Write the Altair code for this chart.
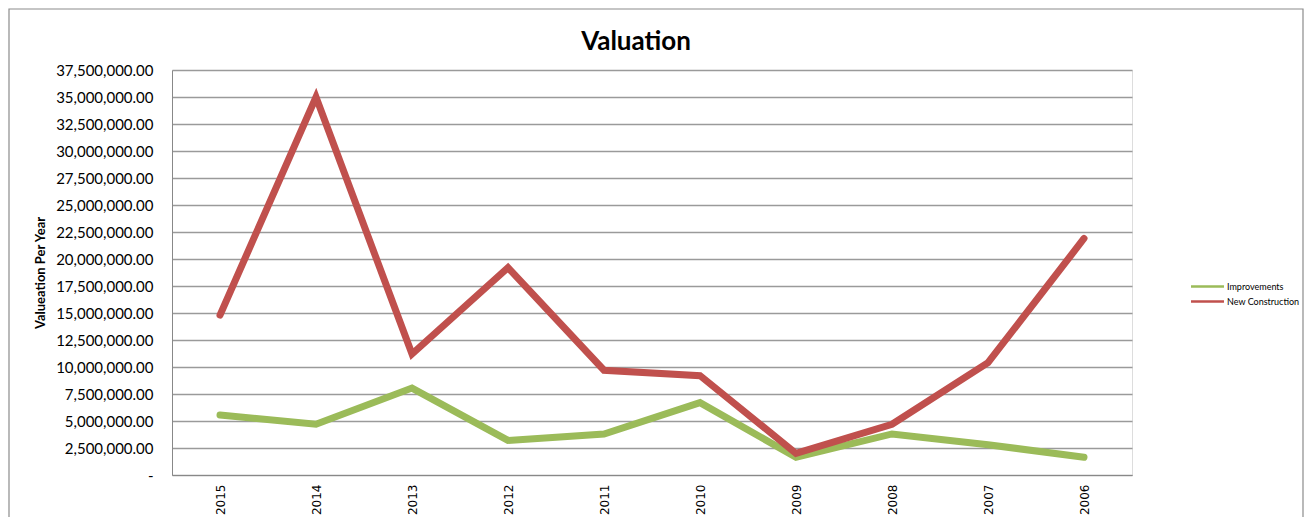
import altair as alt
import pandas as pd

years = ["2015", "2014", "2013", "2012", "2011", "2010", "2009", "2008", "2007", "2006"]
improvements = [5550000, 4700000, 8050000, 3200000, 3800000, 6700000, 1650000, 3800000, 2800000, 1650000]
new_construction = [14800000, 35000000, 11200000, 19200000, 9700000, 9200000, 2000000, 4700000, 10400000, 21900000]
series_names = ["Improvements", "New Construction"]
series_colors = ["#9BBB59", "#C0504D"]
y_ticks = [i * 2500000 for i in range(16)]
chart_title = "Valuation"

rows = []
for y, a, b in zip(years, improvements, new_construction):
    rows.append({"Year": y, "Series": series_names[0], "Value": a})
    rows.append({"Year": y, "Series": series_names[1], "Value": b})
df = pd.DataFrame(rows)

FONT = "Lato"
W, H = 960, 405

lines = alt.Chart(df).mark_line(strokeWidth=7, strokeCap="round", strokeJoin="miter").encode(
    x=alt.X("Year:N", sort=years,
            scale=alt.Scale(type="point", padding=0.5),
            axis=alt.Axis(title=None, labelAngle=270, labelFontSize=12, labelFont="DejaVu Sans",
                          labelColor="#000000", labelPadding=9, ticks=False,
                          domainColor="#888888", grid=False, labelBaseline="middle", labelAlign="right")),
    y=alt.Y("Value:Q", scale=alt.Scale(domain=[0, 37500000], nice=False),
            axis=alt.Axis(title="Valueation Per Year", titleFont=FONT, titleFontSize=13,
                          titleFontWeight="bold", titleColor="#000000",
                          titleX=-132, titleY=H / 2, titleBaseline="middle", titleAlign="center",
                          values=y_ticks,
                          labelExpr="datum.value == 0 ? '-' : format(datum.value, ',.2f')",
                          labelFont=FONT, labelFontSize=15, labelColor="#000000", labelPadding=19,
                          ticks=False, domainColor="#888888",
                          grid=True, gridColor="#9a9a9a", gridWidth=1.3)),
    color=alt.Color("Series:N", sort=series_names,
                    scale=alt.Scale(domain=series_names, range=series_colors),
                    legend=alt.Legend(title=None, orient="none", legendX=1026, legendY=207,
                                      symbolType="M-2,0L2,0", symbolSize=272, symbolStrokeWidth=2.5,
                                      labelFont=FONT, labelFontSize=9, labelColor="#000000",
                                      rowPadding=0, labelOffset=10)),
    order=alt.Order("Year:N", sort="descending"),
)

border = alt.Chart(pd.DataFrame({"k": [0]})).mark_rect(
    fill=None, stroke="#8c8c8c", strokeWidth=1.2, clip=False
).encode(
    x=alt.value(-163), x2=alt.value(1131), y=alt.value(-61), y2=alt.value(470)
)

title = alt.Chart(pd.DataFrame({"t": [chart_title]})).mark_text(
    font=FONT, fontSize=26, fontWeight="bold", color="#000000",
    align="center", baseline="alphabetic"
).encode(
    text="t:N", x=alt.value(464), y=alt.value(-20)
)

chart = alt.layer(border, lines, title).properties(
    width=W, height=H,
    autosize=alt.AutoSizeParams(type="none"),
    padding={"left": 164, "top": 62, "right": 172, "bottom": 42},
).configure_view(stroke=None).configure(background="white")

chart.save("out.html", embed_options={"renderer": "svg", "actions": False})
